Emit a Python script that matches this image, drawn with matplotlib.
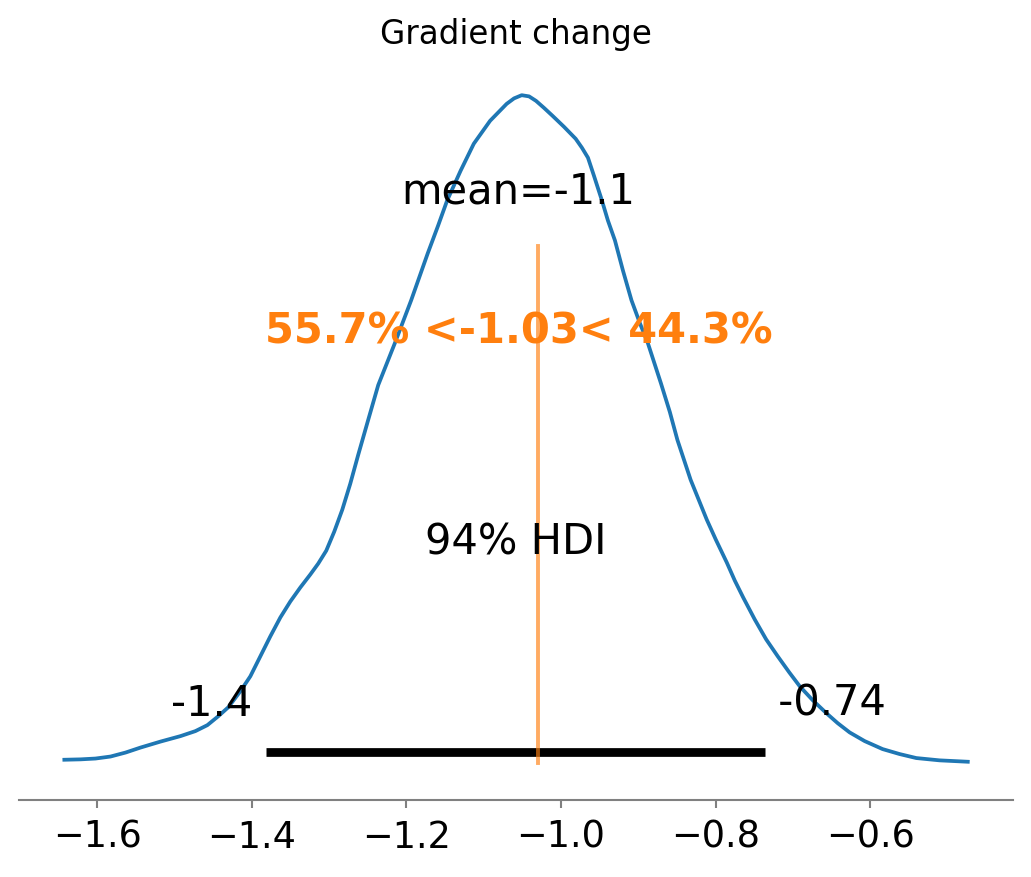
import matplotlib
matplotlib.use("Agg")
import matplotlib.pyplot as plt
import numpy as np

# ---- data ----
title = "Gradient change"
kde_x = [-1.6424, -1.6214, -1.6021, -1.5827, -1.5633, -1.5439, -1.5181, -1.4922,
         -1.4729, -1.4574, -1.4432, -1.4302, -1.4147, -1.4018, -1.3889, -1.3760,
         -1.3630, -1.3501, -1.3372, -1.3243, -1.3140, -1.3036, -1.2933, -1.2829,
         -1.2726, -1.2623, -1.2494, -1.2364, -1.2149, -1.1938, -1.1724, -1.1589,
         -1.1473, -1.1298, -1.1128, -1.0917, -1.0703, -1.0607, -1.0508, -1.0413,
         -1.0323, -1.0220, -1.0109, -0.9961, -0.9810, -0.9729, -0.9651, -0.9574,
         -0.9470, -0.9393, -0.9302, -0.9199, -0.9088, -0.8979, -0.8876, -0.8708,
         -0.8592, -0.8494, -0.8323, -0.8114, -0.7997, -0.7855, -0.7752, -0.7643,
         -0.7494, -0.7346, -0.7196, -0.7048, -0.6912, -0.6744, -0.6567, -0.6421,
         -0.6266, -0.6072, -0.5840, -0.5620, -0.5404, -0.5103, -0.4738]
kde_y = [0.0138, 0.0151, 0.0178, 0.0244, 0.0375, 0.0540, 0.0737, 0.0918,
         0.1083, 0.1280, 0.1576, 0.1873, 0.2399, 0.2893, 0.3551, 0.4209,
         0.4834, 0.5361, 0.5822, 0.6250, 0.6612, 0.7039, 0.7665, 0.8389,
         0.9244, 1.0199, 1.1351, 1.2502, 1.3885, 1.5300, 1.6847, 1.7768,
         1.8591, 1.9578, 2.0467, 2.1224, 2.1783, 2.1964, 2.2069, 2.2030,
         2.1882, 2.1651, 2.1388, 2.1026, 2.0631, 2.0335, 2.0006, 1.9414,
         1.8591, 1.7933, 1.7275, 1.6287, 1.5300, 1.4543, 1.3885, 1.2568,
         1.1614, 1.0692, 0.9376, 0.8060, 0.7401, 0.6645, 0.6052, 0.5493,
         0.4769, 0.4110, 0.3551, 0.3024, 0.2564, 0.2103, 0.1675, 0.1346,
         0.1040, 0.0754, 0.0490, 0.0326, 0.0194, 0.0118, 0.0072]
mean_value = -1.055
mean_label = "mean=-1.1"
hdi_bounds = [-1.382, -0.7355]
hdi_labels = ["-1.4", "-0.74"]
hdi_text = "94% HDI"
ref_value = -1.03
ref_text = "55.7% <-1.03< 44.3%"
xtick_values = [-1.6, -1.4, -1.2, -1.0, -0.8, -0.6]

C0 = "#1f77b4"
C1 = "#ff7f0e"
label_size = 30
tick_size = 26.4
title_size = 23.5

fig = plt.figure(figsize=(10.31, 8.78), dpi=100)
ax = fig.add_axes([0.0186, 0.0880, 0.9639, 0.8404])

ax.plot(kde_x, kde_y, color=C0, lw=2.7, solid_joinstyle="round")
top = ax.get_ylim()[1]
ax.set_ylim(-0.051 * top, top)
plot_height = top

# HDI
ax.plot(hdi_bounds, [plot_height * 0.017] * 2, lw=6.3, color="k", solid_capstyle="butt")
ax.text(hdi_bounds[0], plot_height * 0.07, hdi_labels[0] + " ", size=label_size, ha="right")
ax.text(hdi_bounds[1], plot_height * 0.07, " " + hdi_labels[1], size=label_size, ha="left")
ax.text((hdi_bounds[0] + hdi_bounds[1]) / 2, plot_height * 0.3, hdi_text, size=label_size, ha="center")

# reference value
ax.axvline(ref_value, ymin=0.05, ymax=0.75, lw=2.8, alpha=0.65, color=C1)
ax.text(mean_value, plot_height * 0.6, ref_text, size=label_size, weight="semibold",
        ha="center", color=C1)

# point estimate
ax.text(mean_value, plot_height * 0.8, mean_label, size=label_size, ha="center")

ax.set_title(title, fontsize=title_size, pad=13.5)

ax.set_yticks([])
ax.set_xticks(xtick_values)
ax.tick_params(axis="x", labelsize=tick_size, color="gray", length=6, width=1.5, pad=7)
for s in ["left", "right", "top"]:
    ax.spines[s].set_visible(False)
ax.spines["bottom"].set_color("gray")
ax.spines["bottom"].set_linewidth(1.5)

fig.savefig("out.png", dpi=100)
